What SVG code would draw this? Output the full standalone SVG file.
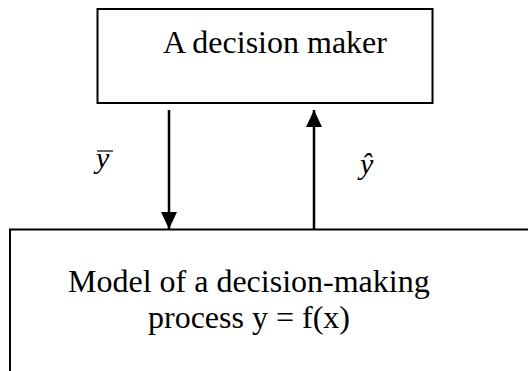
<svg xmlns="http://www.w3.org/2000/svg" width="528" height="371" viewBox="0 0 528 371">
<style>
.box{fill:none;stroke:#000;stroke-width:2}
.lbl{font-family:"Liberation Serif","Times New Roman",serif;font-size:32px;fill:#000}
.math{font-family:"Liberation Serif","Times New Roman",serif;font-size:30px;font-style:italic;fill:#000}
.conn{stroke:#000;stroke-width:2.5;fill:none}
</style>
<defs>
<marker id="ah" viewBox="0 0 17 16" refX="17" refY="8" markerWidth="17" markerHeight="16" orient="auto" markerUnits="userSpaceOnUse">
<path d="M0,0 L17,8 L0,16 z" fill="#000"/>
</marker>
</defs>
<rect width="528" height="371" fill="#fff"/>
<g id="decision-maker">
<rect class="box" x="97.5" y="9" width="335" height="94"/>
<text class="lbl" x="163" y="53">A decision maker</text>
</g>
<g id="model">
<path class="box" d="M10,371 V229.5 H528"/>
<text class="lbl" x="68" y="292">Model of a decision-making</text>
<text class="lbl" x="148" y="328">process y = f(x)</text>
</g>
<g id="connectors">
<line class="conn" x1="169" y1="110" x2="169" y2="229" marker-end="url(#ah)"/>
<line class="conn" x1="314" y1="229" x2="314" y2="110" marker-end="url(#ah)"/>
<g id="ybar">
<text class="math" x="96" y="168">y</text>
<line x1="97" y1="151" x2="113" y2="151" stroke="#000" stroke-width="1.2"/>
</g>
<text class="math" x="360" y="174">ŷ</text>
</g>
</svg>
